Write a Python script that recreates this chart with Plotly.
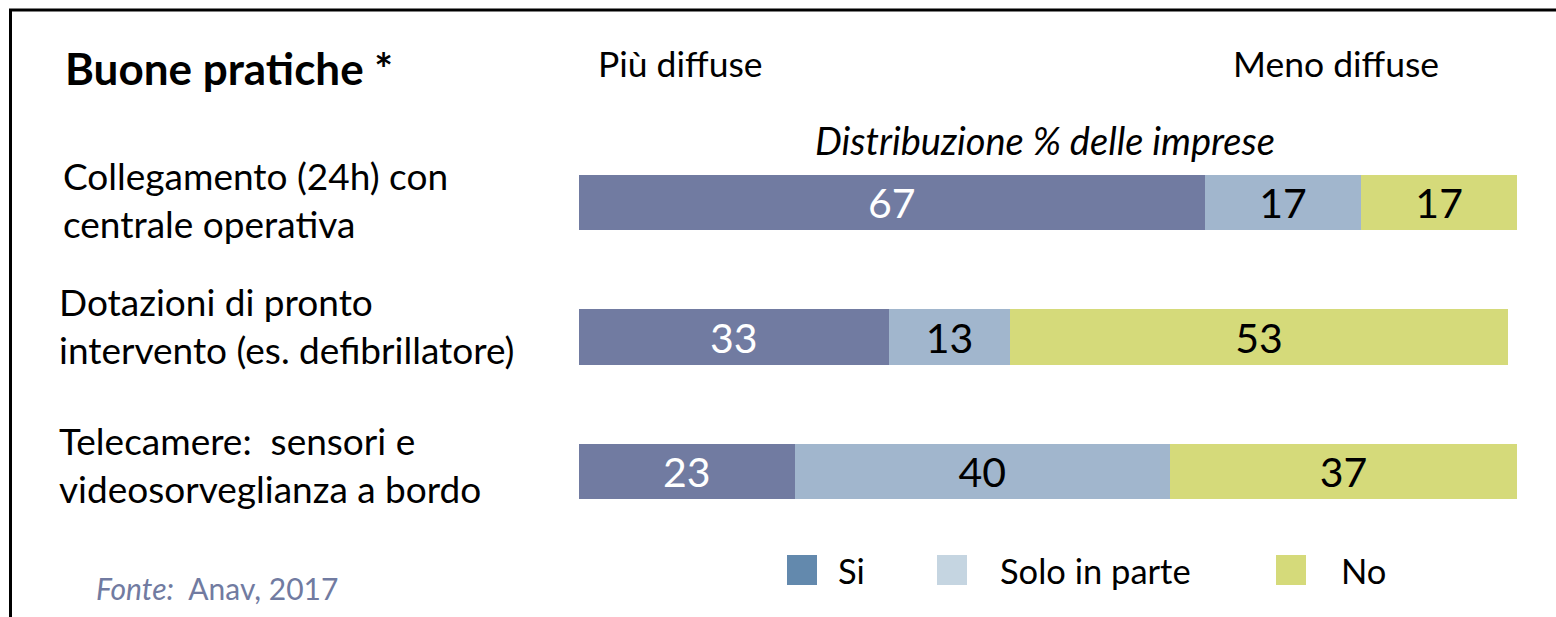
import plotly.graph_objects as go

W, H = 1556, 617

categories = [
    "Collegamento (24h) con<br>centrale operativa",
    "Dotazioni di pronto<br>intervento (es. defibrillatore)",
    "Telecamere:  sensori e<br>videosorveglianza a bordo",
]
series_names = ["Si", "Solo in parte", "No"]
si_values = [66.7, 33, 23]
parte_values = [16.7, 13, 40]
no_values = [16.6, 53, 37]

bar_colors = ["#717ba1", "#a1b6cd", "#d5da7a"]
legend_colors = ["#6389ad", "#c5d5e1", "#d5da7a"]
text_colors = ["white", "black", "black"]

FONT = "Lato, 'Open Sans', sans-serif"

fig = go.Figure()
for name, vals, col, tcol in zip(series_names, [si_values, parte_values, no_values], bar_colors, text_colors):
    fig.add_trace(go.Bar(
        y=categories, x=vals, name=name, orientation="h",
        marker=dict(color=col, line=dict(width=0)),
        texttemplate="%{x:.0f}", textposition="inside", insidetextanchor="middle",
        textfont=dict(family=FONT, size=41, color=tcol),
        constraintext="none", showlegend=False, width=0.41,
    ))

def px(x):
    return x / W

def py(y):
    return 1 - y / H

annotations = []
# category labels
label_x = [61, 57, 57]
label_shift = [3, 12, 7]
for c, lx, ys in zip(categories, label_x, label_shift):
    annotations.append(dict(
        x=px(lx), xref="paper", y=c, yref="y", xanchor="left", yanchor="middle",
        text=c, align="left", showarrow=False, yshift=ys,
        font=dict(family=FONT, size=37, color="black"),
    ))

annotations += [
    dict(x=px(63), y=py(68), xref="paper", yref="paper", xanchor="left", yanchor="middle",
         text="<b>Buone pratiche *</b>", showarrow=False,
         font=dict(family=FONT, size=44, color="black")),
    dict(x=px(596), y=py(64), xref="paper", yref="paper", xanchor="left", yanchor="middle",
         text="Più diffuse", showarrow=False, font=dict(family=FONT, size=35.5, color="black")),
    dict(x=px(1231), y=py(64), xref="paper", yref="paper", xanchor="left", yanchor="middle",
         text="Meno diffuse", showarrow=False, font=dict(family=FONT, size=35.5, color="black")),
    dict(x=px(1045), y=py(140), xref="paper", yref="paper", xanchor="center", yanchor="middle",
         text="<i>Distribuzione % delle imprese</i>", showarrow=False,
         font=dict(family=FONT, size=38, color="black")),
    dict(x=px(94), y=py(588), xref="paper", yref="paper", xanchor="left", yanchor="middle",
         text="<i>Fonte:</i>  Anav, 2017", showarrow=False,
         font=dict(family=FONT, size=30, color="#717ba1")),
]

# legend (custom, colored squares + labels)
legend_square_x = [787, 937, 1276]
legend_text_x = [836, 998, 1339]
shapes = []
for name, col, sx, tx in zip(series_names, legend_colors, legend_square_x, legend_text_x):
    shapes.append(dict(type="rect", xref="paper", yref="paper",
                       x0=px(sx), x1=px(sx + 30), y0=py(585), y1=py(555),
                       fillcolor=col, line=dict(width=0)))
    annotations.append(dict(x=px(tx), y=py(570), xref="paper", yref="paper",
                            xanchor="left", yanchor="middle", text=name, showarrow=False,
                            font=dict(family=FONT, size=34.5, color="black")))

# frame
shapes.append(dict(type="line", xref="paper", yref="paper", x0=px(10.5), x1=px(10.5),
                   y0=py(9), y1=0, line=dict(color="black", width=3)))
shapes.append(dict(type="line", xref="paper", yref="paper", x0=px(9), x1=1,
                   y0=py(10), y1=py(10), line=dict(color="black", width=3)))

fig.update_layout(
    width=W, height=H, margin=dict(l=0, r=0, t=0, b=0),
    paper_bgcolor="white", plot_bgcolor="white",
    barmode="stack", bargap=0.59,
    xaxis=dict(range=[0, 100], domain=[px(579), px(1517)], visible=False, fixedrange=True),
    yaxis=dict(range=[2.5, -0.5], domain=[py(538.75), py(135.25)], visible=False,
               type="category", fixedrange=True),
    annotations=annotations, shapes=shapes,
    font=dict(family=FONT), showlegend=False,
)

fig.write_html("out.html", config={"displayModeBar": False},
               post_script="document.body.style.margin='0';")
